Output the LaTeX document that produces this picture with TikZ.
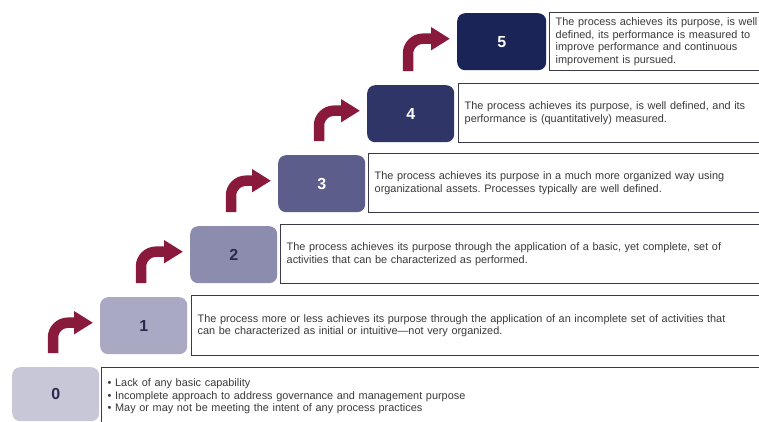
\documentclass[tikz,border=0pt]{standalone}
\usepackage{fontspec}
\setmainfont{Liberation Sans}
\usetikzlibrary{arrows.meta}
\definecolor{lv0}{HTML}{C7C7D7}
\definecolor{lv1}{HTML}{A9A9C4}
\definecolor{lv2}{HTML}{8C8CAF}
\definecolor{lv3}{HTML}{5D5D8B}
\definecolor{lv4}{HTML}{2F3566}
\definecolor{lv5}{HTML}{1B2457}
\definecolor{numdark}{HTML}{2A2A4C}
\definecolor{arrowred}{HTML}{8A1A3C}
\definecolor{descline}{HTML}{3A3A48}
\definecolor{desctext}{HTML}{3A3A3A}
\frenchspacing
\begin{document}
\begin{tikzpicture}[x=1pt,y=-1pt,
  level/.style={rounded corners=8pt, minimum width=87pt, minimum height=57pt,
    anchor=north west, inner sep=0pt, font=\fontsize{16}{16}\selectfont\bfseries},
  desc/.style={draw=descline, line width=1.4pt, anchor=north west, text width=790pt,
    inner xsep=6pt, inner ysep=0pt, align=left, text=desctext,
    font=\fontsize{10.9}{12.4}\selectfont},
  steparrow/.style={draw=arrowred, line width=10.5pt, rounded corners=15pt,
    -{Triangle[width=22pt,length=19pt]}}]
\useasboundingbox (0,0) rectangle (759,421);
\clip (0,0) rectangle (759,421);
\fill[white] (0,0) rectangle (759,421);

% capability levels
\node[level, fill=lv0, text=numdark, minimum height=54pt] (l0) at (12,367) {0};
\node[level, fill=lv1, text=numdark] (l1) at (100,297) {1};
\node[level, fill=lv2, text=numdark] (l2) at (190,226) {2};
\node[level, fill=lv3, text=white] (l3) at (278,155) {3};
\node[level, fill=lv4, text=white] (l4) at (367,85) {4};
\node[level, fill=lv5, text=white, minimum width=89pt] (l5) at (457,13) {5};

% descriptions
\node[desc, minimum height=57pt] (t0) at (101,367) {%
  \textbullet\ Lack of any basic capability\\
  \textbullet\ Incomplete approach to address governance and management purpose\\
  \textbullet\ May or may not be meeting the intent of any process practices};
\node[desc, minimum height=60pt] (t1) at (191,295) {%
  The process more or less achieves its purpose through the application of an incomplete set of activities that\\
  can be characterized as initial or intuitive---not very organized.};
\node[desc, minimum height=59pt] (t2) at (280,224) {%
  The process achieves its purpose through the application of a basic, yet complete, set of\\
  activities that can be characterized as performed.};
\node[desc, minimum height=59pt] (t3) at (368,153) {%
  The process achieves its purpose in a much more organized way using\\
  organizational assets. Processes typically are well defined.};
\node[desc, minimum height=59pt] (t4) at (458,83) {%
  The process achieves its purpose, is well defined, and its\\
  performance is (quantitatively) measured.};
\node[desc, minimum height=58pt] (t5) at (549,12) {%
  The process achieves its purpose, is well\\
  defined, its performance is measured to\\
  improve performance and continuous\\
  improvement is pursued.};

% step-up arrows
\foreach \a/\b in {l0/l1, l1/l2, l2/l3, l3/l4, l4/l5}
  \draw[steparrow] ([xshift=41pt,yshift=14pt]\a.north west)
    |- ([xshift=-7pt,yshift=3pt]\b.west);
\end{tikzpicture}
\end{document}
